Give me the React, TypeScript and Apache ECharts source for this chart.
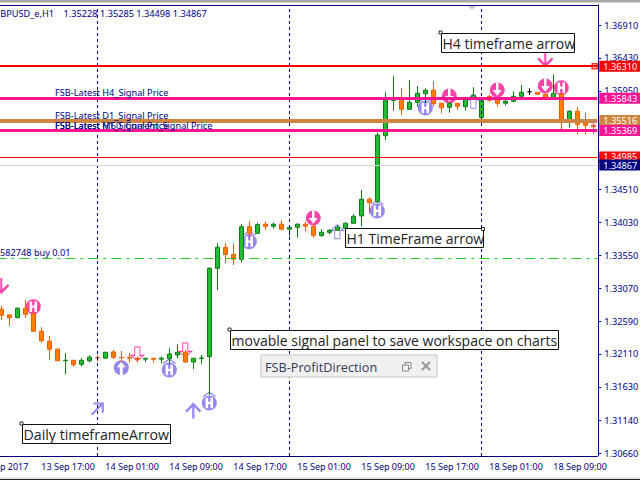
import React, { useEffect, useRef } from "react";
import * as echarts from "echarts";

// Candle rows: open, close, low, high (hourly)
const candleRows: number[][] = [
  [1.32762,1.32675,1.32606,1.32810],[1.32679,1.32640,1.32519,1.32685],[1.32640,1.32777,1.32631,1.32791],[1.32777,1.32689,1.32635,1.32898],
  [1.32694,1.32441,1.32430,1.32720],[1.32441,1.32304,1.32275,1.32500],[1.32295,1.32179,1.32022,1.32373],[1.32179,1.32012,1.32012,1.32193],
  [1.32012,1.32018,1.31817,1.32120],[1.32018,1.31954,1.31920,1.32022],[1.31960,1.32018,1.31925,1.32048],[1.32012,1.32063,1.31983,1.32092],
  [1.32056,1.32050,1.31993,1.32092],[1.32048,1.32135,1.32048,1.32135],[1.32139,1.32063,1.32034,1.32168],[1.32060,1.32056,1.31993,1.32153],
  [1.32060,1.32048,1.31986,1.32124],[1.32048,1.32033,1.31986,1.32072],[1.32034,1.32048,1.31993,1.32050],[1.32048,1.32033,1.31983,1.32050],
  [1.32034,1.32048,1.31974,1.32072],[1.32041,1.32110,1.31963,1.32193],[1.32095,1.32135,1.32048,1.32252],[1.32135,1.31993,1.31983,1.32168],
  [1.31993,1.32048,1.31891,1.32048],[1.32047,1.32052,1.31963,1.32095],[1.32071,1.33360,1.31511,1.33375],[1.33360,1.33667,1.33044,1.33725],
  [1.33664,1.33562,1.33433,1.33725],[1.33562,1.33492,1.33409,1.33725],[1.33492,1.33967,1.33442,1.34007],[1.33967,1.33871,1.33821,1.34046],
  [1.33871,1.33997,1.33861,1.34026],[1.34003,1.33973,1.33919,1.34040],[1.33973,1.34003,1.33938,1.34026],[1.34003,1.33930,1.33930,1.34061],
  [1.33930,1.33959,1.33821,1.33959],[1.33959,1.34003,1.33807,1.34017],[1.34003,1.33973,1.33894,1.34040],[1.33973,1.33842,1.33807,1.34003],
  [1.33836,1.33886,1.33821,1.33930],[1.33886,1.33915,1.33856,1.33930],[1.33915,1.33959,1.33909,1.33992],[1.33944,1.34017,1.33944,1.34032],
  [1.34017,1.34119,1.34017,1.34148],[1.34124,1.34367,1.33967,1.34503],[1.34367,1.34318,1.34163,1.34396],[1.34332,1.35305,1.34313,1.35339],
  [1.35295,1.35816,1.35232,1.35928],[1.35812,1.35816,1.35660,1.36166],[1.35826,1.35680,1.35597,1.35991],[1.35680,1.35782,1.35680,1.36108],
  [1.35782,1.35914,1.35718,1.36020],[1.35908,1.35958,1.35772,1.35987],[1.35958,1.35762,1.35718,1.36093],[1.35768,1.35704,1.35622,1.35768],
  [1.35710,1.35768,1.35631,1.35782],[1.35768,1.35724,1.35670,1.35768],[1.35718,1.35826,1.35660,1.35864],[1.35831,1.35885,1.35816,1.36001],
  [1.35558,1.35841,1.35558,1.35841],[1.35870,1.35812,1.35791,1.35889],[1.35826,1.35768,1.35718,1.35826],[1.35768,1.35797,1.35733,1.35850],
  [1.35797,1.35870,1.35782,1.35943],[1.35870,1.35928,1.35855,1.36035],[1.35937,1.35937,1.35889,1.35987],[1.35928,1.35899,1.35899,1.35928],
  [1.35899,1.35826,1.35826,1.35899],[1.35826,1.35914,1.35826,1.36191],[1.35899,1.35514,1.35388,1.35899],[1.35514,1.35651,1.35412,1.35670],
  [1.35651,1.35461,1.35320,1.35714],[1.35480,1.35447,1.35320,1.35636],[1.35447,1.35426,1.35320,1.35514],
];
const blackCandle = 66;
const leadingBars = 3; // bars left of the visible window, only there so the first date tick exists

const xTickLabels = ["13 Sep 2017","13 Sep 17:00","14 Sep 01:00","14 Sep 09:00","14 Sep 17:00","15 Sep 01:00","15 Sep 09:00","15 Sep 17:00","18 Sep 01:00","18 Sep 09:00"];
const yTicks = [1.3066,1.3114,1.3163,1.3211,1.3259,1.3307,1.3355,1.3403,1.3451,1.3499,1.3547,1.3595,1.3643,1.3691];
const separators = [12, 36, 60];

const redLevel = 1.3631, h4Level = 1.35843, d1Level = 1.35516, h1Level = 1.35369, redThinLevel = 1.34985, bidLevel = 1.34867, orderLevel = 1.33507;

// Arrow glyphs: [bar, price]
const blueArrowCircle = [[15, 1.3191]];
const blueHCircle = [[21, 1.31876],[26, 1.31394],[31, 1.33749],[47, 1.34197],[53, 1.35699]];
const pinkArrowCircle = [[39, 1.34094],[56, 1.35874],[62, 1.35962],[68, 1.3602]];
const pinkHCircle = [[4, 1.328],[70, 1.35995]];
const pinkHollow = [[17, 1.3211],[23, 1.32168]];
const blueHollow = [[42, 1.33893],[59, 1.35797]];
const pinkThinDown = [[0, 1.33102],[68, 1.36407]];
const blueThinUp = [[24, 1.31285]];
const blueThinDiag = [[12, 1.31307]];

const RING = "M50 0A50 50 0 1 1 50 100A50 50 0 1 1 50 0Z";
const P_UP_RING = "path://" + RING + "M50 12L20 48L40 48L40 99L60 99L60 48L80 48Z";
const P_DOWN_RING = "path://" + RING + "M42 1L42 50L20 50L50 88L80 50L58 50L58 1Z";
const H_HOLE = "M25 15L25 85L42 85L42 58L58 58L58 85L75 85L75 15L58 15L58 42L42 42L42 15Z";
const P_H_RING = "path://" + RING + H_HOLE;
const P_H_CHEVRON = "path://" + RING + H_HOLE + "M50 -26L95 4L89 10L50 -16L11 10L5 4Z";
const P_THIN_DOWN = "path://M44 0L56 0L56 72L90 38L100 48L50 100L0 48L10 38L44 72Z";
const P_THIN_UP = "path://M43 100L57 100L57 28L90 62L100 52L50 0L0 52L10 62L43 28Z";
const P_DIAG = "path://M22 0L100 0L100 78L84 78L84 27L12 100L0 88L73 16L22 16Z";
const P_HOLLOW_DOWN = "path://M30 0L70 0L70 60L100 60L50 100L0 60L30 60Z";
const P_HOLLOW_UP = "path://M30 100L70 100L70 40L100 40L50 0L0 40L30 40Z";

const NAVY = "#000080";
const PINK = "#ff1493";
const BLUE = "#7b68ee";
const PERU = "#cd853f";
const AXIS_FONT = "Noto Sans";
const NOTE_FONT = "Open Sans";

const at = (rows: number[][]) => rows.map(([b, p]) => [b + leadingBars, p]);

function glyph(data: number[][], symbol: string, size: number[], color: string, extra: any = {}) {
  return { type: "scatter", z: 2, silent: true, data: at(data), symbol, symbolSize: size, itemStyle: { color }, ...extra };
}

function tag(value: number, lineColor: string, width: number, bg: string, text = "#ffffff") {
  return {
    yAxis: value,
    lineStyle: { color: lineColor, width, type: "solid" },
    label: {
      show: true, position: "end", distance: 2, formatter: () => value.toFixed(5),
      backgroundColor: bg, color: text, padding: [1, 4, 1, 4], fontSize: 9.2, fontFamily: AXIS_FONT, lineHeight: 9,
    },
  };
}

function note(x: number, y: number, w: number, h: number, str: string, fs: number) {
  return [
    { type: "rect", shape: { x: x + 0.5, y: y + 0.5, width: w, height: h }, style: { fill: "#fff", stroke: "#111", lineWidth: 1 } },
    { type: "text", x: x + 1.5, y: y + h / 2 + 1, style: { text: str, fill: "#222", font: `${fs}px "${NOTE_FONT}"`, verticalAlign: "middle" } },
  ];
}

function App() {
  const ref = useRef<HTMLDivElement>(null);
  useEffect(() => {
    document.body.style.margin = "0";
    const chart = echarts.init(ref.current!, null, { renderer: "svg" });
    const total = leadingBars + candleRows.length;
    const categories = Array.from({ length: total }, (_, i) => (i % 8 === 0 ? xTickLabels[i / 8] : `bar ${i}`));
    const candleData: any[] = [
      ...Array.from({ length: leadingBars }, () => ["-", "-", "-", "-"]),
      ...candleRows.map((r, i) => i === blackCandle ? { value: r, itemStyle: { color: "#000", borderColor: "#000", color0: "#000", borderColor0: "#000" } } : r),
    ];
    const anchors = [[21.5, 423.5], [440.5, 32.5], [483, 229], [229.5, 329.5]];
    chart.setOption({
      animation: false,
      backgroundColor: "#ffffff",
      grid: { left: -26.7, top: 5, width: 624, height: 451, containLabel: false, outerBoundsMode: "none" },
      xAxis: {
        type: "category", data: categories, boundaryGap: true,
        axisLine: { lineStyle: { color: NAVY, width: 1 } },
        axisTick: { alignWithLabel: true, interval: (i: number) => i % 8 === 0, length: 4, lineStyle: { color: NAVY } },
        axisLabel: { interval: (i: number) => i % 8 === 0, align: "left", color: NAVY, fontFamily: AXIS_FONT, fontSize: 9, margin: 6, hideOverlap: false, showMinLabel: true, showMaxLabel: true },
        splitLine: { show: false },
      },
      yAxis: {
        type: "value", position: "right", offset: 1, min: 1.30621, max: 1.37202, scale: true,
        axisLine: { show: true, lineStyle: { color: NAVY, width: 1 } },
        axisTick: { show: true, length: 3, customValues: yTicks, lineStyle: { color: NAVY } },
        axisLabel: { customValues: yTicks, formatter: (v: number) => v.toFixed(5), color: NAVY, fontFamily: AXIS_FONT, fontSize: 9.2, margin: 6, showMinLabel: true, showMaxLabel: true },
        splitLine: { show: false },
      },
      series: [
        {
          type: "scatter", z: 1, data: [[leadingBars, redLevel]], symbolSize: 0, silent: true,
          markLine: {
            silent: true, symbol: "none", animation: false, precision: 5,
            data: [
              ...separators.map((s) => ({ xAxis: s + leadingBars, lineStyle: { color: NAVY, width: 1, type: [3, 3] }, label: { show: false } })),
              { yAxis: orderLevel, lineStyle: { color: "#22cc22", width: 1, type: [10, 5, 3, 5] }, label: { show: false } },
              tag(redLevel, "#ff0000", 2, "#ff0000"),
              tag(h4Level, PINK, 3, PINK),
              tag(d1Level, PERU, 4, PERU),
              tag(h1Level, PINK, 3, PINK),
              tag(redThinLevel, "#ff0000", 1, "#ff0000"),
              tag(bidLevel, "#d3d3d3", 1, NAVY),
            ],
          },
        },
        glyph(blueArrowCircle, P_UP_RING, [15, 15], BLUE),
        glyph(blueHCircle, P_H_CHEVRON, [15, 19], BLUE, { symbolOffset: [0, -2] }),
        glyph(pinkArrowCircle, P_DOWN_RING, [15, 15], PINK),
        glyph(pinkHCircle, P_H_RING, [15, 15], PINK),
        glyph(pinkHollow, P_HOLLOW_DOWN, [13, 14], "#ffffff", { itemStyle: { color: "#ffffff", borderColor: PINK, borderWidth: 1 } }),
        glyph(blueHollow, P_HOLLOW_UP, [13, 14], "#ffffff", { itemStyle: { color: "#ffffff", borderColor: BLUE, borderWidth: 1 } }),
        glyph(pinkThinDown, P_THIN_DOWN, [16, 16], PINK),
        glyph(blueThinUp, P_THIN_UP, [16, 16], BLUE),
        glyph(blueThinDiag, P_DIAG, [13, 13], BLUE),
        {
          type: "candlestick", z: 3, silent: true, barWidth: 5,
          data: candleData,
          itemStyle: { color: "#22bb33", color0: "#ff8000", borderColor: "#137a17", borderColor0: "#ee5a00", borderWidth: 1 },
        },
        {
          type: "scatter", z: 4, silent: true, data: [[leadingBars + 74, redLevel]],
          symbol: "rect", symbolSize: 5, symbolOffset: [1.4, 0],
          itemStyle: { color: "#ffffff", borderColor: "#ff0000", borderWidth: 1.5 },
        },
      ],
      graphic: [
        { type: "rect", silent: true, z: 50, shape: { x: 0, y: 0, width: 640, height: 2.5 }, style: { fill: "#a8a8a8" } },
        { type: "rect", silent: true, z: 50, shape: { x: 0, y: 477, width: 640, height: 2 }, style: { fill: "#e6e6e6" } },
        { type: "rect", silent: true, z: 50, shape: { x: 0, y: 479, width: 640, height: 1 }, style: { fill: "#222222" } },
        { type: "line", silent: true, z: 50, shape: { x1: 0, y1: 5.5, x2: 598.5, y2: 5.5 }, style: { stroke: NAVY, lineWidth: 1 } },
        { type: "polygon", silent: true, z: 50, shape: { points: [[468, 6], [476, 6], [472, 10]] }, style: { fill: "#cccccc" } },
        ...[
          ["GBPUSD_e,H1    1.35228 1.35285 1.34498 1.34867", -6.5, 13.5],
          ["582748 buy 0.01", 0, 252.5],
          ["FSB-Latest H4_Signal Price", 55, 92.5],
          ["FSB-Latest D1_Signal Price", 55, 115],
          ["FSB-Latest H1_Signal Price", 55, 125],
          ["FSB-Latest M60_Current_Signal Price", 55, 125],
        ].map(([t, x, y]) => ({
          type: "text", silent: true, z: 60, x, y,
          style: { text: t, fill: NAVY, font: `9.2px "${AXIS_FONT}"`, verticalAlign: "middle" },
        })),
        ...[
          ...note(22, 424, 148, 19, "Daily timeframeArrow", 14.2),
          ...note(441, 33, 133, 19, "H4 timeframe arrow", 14),
          ...note(345, 228, 138, 19, "H1 TimeFrame arrow", 14),
          ...note(230, 330, 328, 19, "movable signal panel to save workspace on charts", 14),
        ].map((e) => ({ ...e, silent: true, z: 70 })),
        ...anchors.map(([cx, cy]) => ({ type: "rect", silent: true, z: 71, shape: { x: cx - 1.5, y: cy - 1.5, width: 3, height: 3 }, style: { fill: "#fff", stroke: "#000", lineWidth: 0.8 } })),
        { type: "rect", silent: true, z: 72, shape: { x: 261, y: 355, width: 176, height: 22 }, style: { fill: "#f0f0f0", stroke: "#c4c4c4", lineWidth: 1 } },
        { type: "text", silent: true, z: 73, x: 265, y: 366.5, style: { text: "FSB-ProfitDirection", fill: "#333a55", font: `12.7px "${NOTE_FONT}"`, verticalAlign: "middle" } },
        { type: "rect", silent: true, z: 73, shape: { x: 405, y: 362.5, width: 6, height: 6 }, style: { fill: "none", stroke: "#8a8a8a", lineWidth: 1 } },
        { type: "rect", silent: true, z: 73, shape: { x: 402.5, y: 365, width: 6, height: 6 }, style: { fill: "#f0f0f0", stroke: "#8a8a8a", lineWidth: 1 } },
        { type: "line", silent: true, z: 73, shape: { x1: 422, y1: 362, x2: 430, y2: 370 }, style: { stroke: "#999999", lineWidth: 2.2 } },
        { type: "line", silent: true, z: 73, shape: { x1: 430, y1: 362, x2: 422, y2: 370 }, style: { stroke: "#999999", lineWidth: 2.2 } },
      ],
    });
    return () => chart.dispose();
  }, []);
  return <div ref={ref} style={{ position: "fixed", left: 0, top: 0, width: 640, height: 480 }} />;
}

export default App;
